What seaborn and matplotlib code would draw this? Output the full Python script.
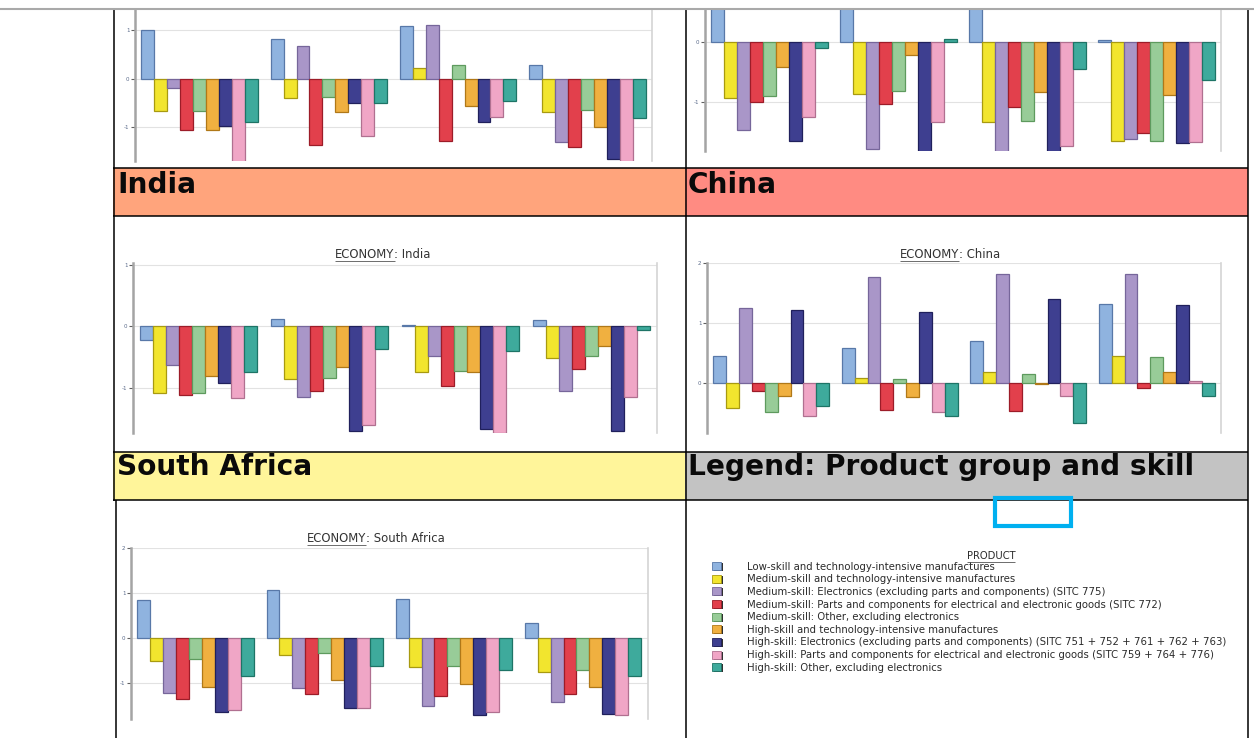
import numpy as np
import pandas as pd
import matplotlib
matplotlib.use("Agg")
import matplotlib.pyplot as plt
import seaborn as sns
from matplotlib.patches import Rectangle
from matplotlib.lines import Line2D

# ---------------- data ----------------
products = [
    "Low-skill and technology-intensive manufactures",
    "Medium-skill and technology-intensive manufactures",
    "Medium-skill: Electronics (excluding parts and components) (SITC 775)",
    "Medium-skill: Parts and components for electrical and electronic goods (SITC 772)",
    "Medium-skill: Other, excluding electronics",
    "High-skill and technology-intensive manufactures",
    "High-skill: Electronics (excluding parts and components) (SITC 751 + 752 + 761 + 762 + 763)",
    "High-skill: Parts and components for electrical and electronic goods (SITC 759 + 764 + 776)",
    "High-skill: Other, excluding electronics",
]
periods = ["P1", "P2", "P3", "P4"]

# top-left panel (economy above "India", cut off)
top_left_vals = [
    [1.00, -0.67, -0.19, -1.06, -0.67, -1.07, -0.97, -1.75, -0.90],
    [0.82, -0.41, 0.68, -1.38, -0.37, -0.68, -0.50, -1.19, -0.51],
    [1.09, 0.23, 1.12, -1.30, 0.28, -0.56, -0.89, -0.79, -0.46],
    [0.28, -0.68, -1.32, -1.41, -0.64, -1.01, -1.66, -1.75, -0.81],
]
# top-right panel (economy above "China", cut off)
top_right_vals = [
    [0.90, -0.92, -1.45, -1.00, -0.90, -0.41, -1.64, -1.24, -0.10],
    [0.90, -0.86, -1.77, -1.03, -0.81, -0.22, -1.85, -1.33, 0.05],
    [0.90, -1.33, -1.85, -1.08, -1.30, -0.82, -1.85, -1.72, -0.44],
    [0.04, -1.64, -1.60, -1.51, -1.64, -0.87, -1.68, -1.65, -0.63],
]
india_vals = [
    [-0.23, -1.09, -0.63, -1.11, -1.09, -0.81, -0.92, -1.17, -0.75],
    [0.12, -0.86, -1.15, -1.06, -0.85, -0.66, -1.71, -1.61, -0.37],
    [0.02, -0.74, -0.48, -0.97, -0.73, -0.74, -1.67, -1.73, -0.41],
    [0.10, -0.51, -1.05, -0.69, -0.49, -0.32, -1.70, -1.15, -0.06],
]
china_vals = [
    [0.45, -0.43, 1.24, -0.15, -0.50, -0.22, 1.21, -0.56, -0.40],
    [0.58, 0.08, 1.76, -0.46, 0.06, -0.25, 1.18, -0.49, -0.56],
    [0.70, 0.17, 1.82, -0.47, 0.15, -0.02, 1.39, -0.22, -0.68],
    [1.32, 0.44, 1.82, -0.09, 0.42, 0.17, 1.30, 0.02, -0.23],
]
south_africa_vals = [
    [0.84, -0.51, -1.21, -1.35, -0.47, -1.09, -1.63, -1.60, -0.83],
    [1.08, -0.37, -1.11, -1.24, -0.33, -0.93, -1.55, -1.55, -0.61],
    [0.87, -0.64, -1.50, -1.29, -0.62, -1.02, -1.71, -1.64, -0.71],
    [0.34, -0.74, -1.42, -1.24, -0.71, -1.09, -1.67, -1.70, -0.84],
]

face_colors = ["#8fb3df", "#f2e52e", "#a996c8", "#e2404c", "#98cc98",
               "#f0b040", "#3e3f90", "#f0a6c6", "#3eaa9c"]
edge_colors = ["#5878a8", "#a89a10", "#76669a", "#9c1c28", "#5e9a5e",
               "#b07818", "#20205c", "#b07090", "#1e7466"]

header_labels = ["India", "China", "South Africa", "Legend: Product group and skill"]
header_colors = ["#ffa47c", "#ff8b82", "#fff59a", "#c3c3c3"]

# ---------------- figure ----------------
W, H = 1254, 738
sns.set_theme(style="white")
plt.rcParams["font.family"] = ["DejaVu Sans"]
fig = plt.figure(figsize=(W / 100, H / 100), dpi=100, facecolor="white")


def fx(x):
    return x / W


def fy(y):
    return 1 - y / H


def px_axes(x0, y0, x1, y1):
    return fig.add_axes([fx(x0), fy(y1), (x1 - x0) / W, (y1 - y0) / H])


def hline(x0, x1, y, color="black", lw=1.1, z=5):
    fig.add_artist(Line2D([fx(x0), fx(x1)], [fy(y), fy(y)], transform=fig.transFigure,
                          color=color, lw=lw, zorder=z, solid_capstyle="butt"))


def vline(x, y0, y1, color="black", lw=1.1, z=5):
    fig.add_artist(Line2D([fx(x), fx(x)], [fy(y0), fy(y1)], transform=fig.transFigure,
                          color=color, lw=lw, zorder=z, solid_capstyle="butt"))


def rect(x0, y0, x1, y1, fc, ec="none", lw=0, z=1):
    fig.add_artist(Rectangle((fx(x0), fy(y1)), (x1 - x0) / W, (y1 - y0) / H,
                             transform=fig.transFigure, facecolor=fc, edgecolor=ec,
                             lw=lw, zorder=z))


def draw_panel(values, box, ylim, ticks):
    ax = px_axes(*box)
    rows = [(periods[g], products[p], values[g][p]) for g in range(4) for p in range(9)]
    df = pd.DataFrame(rows, columns=["period", "product", "value"])
    sns.barplot(data=df, x="period", y="value", hue="product", order=periods,
                hue_order=products, palette=face_colors, saturation=1, width=0.9,
                errorbar=None, legend=False, ax=ax, linewidth=0.9)
    for i, cont in enumerate(ax.containers):
        for b in cont:
            b.set_edgecolor(edge_colors[i])
            b.set_zorder(3)
    ax.set_xlim(-0.5, 3.5)
    ax.set_ylim(*ylim)
    ax.set_yticks(ticks)
    ax.set_yticklabels([str(t) for t in ticks], fontsize=4, color="#5a6a8a")
    ax.set_xticks([])
    ax.set_xlabel("")
    ax.set_ylabel("")
    ax.set_axisbelow(True)
    ax.yaxis.grid(True, color="#e2e2e2", lw=0.8)
    ax.xaxis.grid(False)
    for s in ["top", "bottom"]:
        ax.spines[s].set_visible(False)
    ax.spines["left"].set_color("#a4a4a4")
    ax.spines["left"].set_linewidth(1.8)
    ax.spines["right"].set_color("#d4d4d4")
    ax.spines["right"].set_linewidth(1.2)
    ax.tick_params(axis="y", which="both", left=True, length=3, width=0.8,
                   color="#606060", pad=1)
    ax.patch.set_facecolor("white")
    return ax


# top gray rule
hline(0, W, 8.5, color="#a9a9a9", lw=1.5, z=6)

# header cells
rect(113, 168, 685, 216, header_colors[0], z=1)
rect(685, 168, 1248, 216, header_colors[1], z=1)
rect(113, 452, 685, 500, header_colors[2], z=1)
rect(685, 452, 1248, 500, header_colors[3], z=1)

# table borders
for y in [168, 216, 452, 500]:
    hline(113, 1248, y)
vline(113.5, 10, 501)
vline(115.5, 500, 738)
vline(685.5, 10, 738)
vline(1247.5, 10, 738)

# header texts
hdr_kw = dict(fontsize=20.2, fontweight="bold", color="#0a0a0a", va="baseline",
              ha="left", zorder=7)
fig.text(fx(117), fy(193), header_labels[0], **hdr_kw)
fig.text(fx(688), fy(193), header_labels[1], **hdr_kw)
fig.text(fx(117), fy(475), header_labels[2], **hdr_kw)
fig.text(fx(688), fy(475), header_labels[3], **hdr_kw)

# panels
draw_panel(top_left_vals, (135, 10, 652, 161.3), (-1.71, 1.42), [-1, 0, 1])
draw_panel(top_right_vals, (705, 10, 1221, 150.7), (-1.80, 0.53), [-1, 0])
draw_panel(india_vals, (133, 263.3, 657, 432.7), (-1.73, 1.02), [-1, 0, 1])
draw_panel(china_vals, (707, 263, 1221, 432.7), (-0.84, 2.0), [0, 1, 2])
draw_panel(south_africa_vals, (131, 547.7, 647.5, 719), (-1.79, 2.01), [-1, 0, 1, 2])

# chart titles with underlined "ECONOMY"
title_specs = [("India", 383, 254), ("China", 950, 254), ("South Africa", 376, 538)]
title_pairs = []
for name, cx, cy in title_specs:
    t1 = fig.text(fx(cx), fy(cy), "ECONOMY", fontsize=8.4, color="#333333",
                  ha="right", va="center", zorder=7)
    t2 = fig.text(fx(cx), fy(cy), ": " + name, fontsize=8.4, color="#333333",
                  ha="left", va="center", zorder=7)
    title_pairs.append((t1, t2, cx, cy))

# legend
leg_title = fig.text(fx(991), fy(556), "PRODUCT", fontsize=7.2, color="#2a2a2a",
                     ha="center", va="center", zorder=7)
y0, dy = 566.7, 12.62
for i, lab in enumerate(products):
    yc = y0 + i * dy
    rect(713.5, yc - 3.5, 722.5, yc + 4.5, "#303030", z=6)
    rect(712, yc - 4.5, 721, yc + 3.5, face_colors[i], ec=edge_colors[i], lw=0.6, z=7)
    fig.text(fx(747), fy(yc), lab, fontsize=7.25, color="#2a2a2a", ha="left",
             va="center", zorder=7)

# selection box
rect(995, 498, 1071, 526, "none", ec="#00b0f0", lw=3, z=8)

# underline helper
fig.canvas.draw()
r = fig.canvas.get_renderer()
for t1, t2, cx, cy in title_pairs:
    w1 = t1.get_window_extent(r).width
    w2 = t2.get_window_extent(r).width
    shift = (w1 - w2) / 2
    t1.set_position((fx(cx + shift), fy(cy)))
    t2.set_position((fx(cx + shift), fy(cy)))
    bb = t1.get_window_extent(r)
    hline(cx + shift - w1, cx + shift, cy + bb.height / 2 + 0.5, color="#555555", lw=0.6, z=7)
bb = leg_title.get_window_extent(r)
hline(bb.x0, bb.x1, H - bb.y0 + 0.5, color="#555555", lw=0.6, z=7)

fig.savefig("out.png", dpi=100, facecolor="white")
